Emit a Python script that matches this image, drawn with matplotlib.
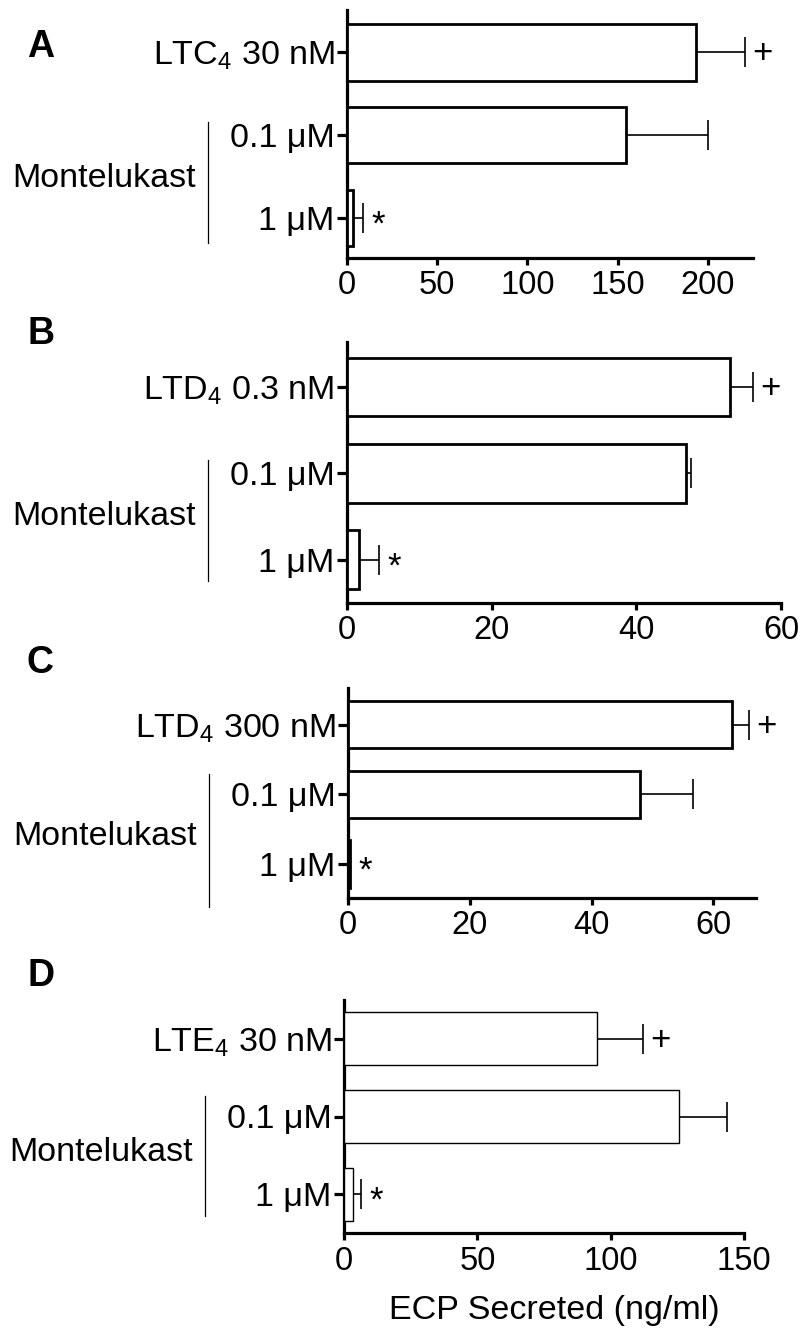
import numpy as np
import matplotlib.pyplot as plt
from matplotlib import transforms

plt.rcParams.update({'font.size': 24.5})
plt.rcParams['font.family'] = ['Liberation Sans', 'DejaVu Sans']
plt.rcParams['mathtext.fontset'] = 'custom'
plt.rcParams['mathtext.rm'] = 'Liberation Sans'

# ***** data (ECP secreted, ng/ml)
labels_A = ['LTC$\\mathregular{_4}$ 30 nM', '0.1 μM', '1 μM']
mean_A = [193.4, 154.8, 3.4]
err_A = [27.1, 45.2, 5.6]
marks_A = ['+', '', '*']

labels_B = ['LTD$\\mathregular{_4}$ 0.3 nM', '0.1 μM', '1 μM']
mean_B = [52.9, 46.8, 1.6]
err_B = [3.2, 0.7, 2.8]
marks_B = ['+', '', '*']

labels_C = ['LTD$\\mathregular{_4}$ 300 nM', '0.1 μM', '1 μM']
mean_C = [63.1, 47.9, 0.3]
err_C = [2.7, 8.7, 0.0]
marks_C = ['+', '', '*']

labels_D = ['LTE$\\mathregular{_4}$ 30 nM', '0.1 μM', '1 μM']
mean_D = [94.7, 125.6, 3.3]
err_D = [17.3, 18.2, 3.2]
marks_D = ['+', '', '*']

xticks_A = [0, 50, 100, 150, 200]
xticks_B = [0, 20, 40, 60]
xticks_C = [0, 20, 40, 60]
xticks_D = [0, 50, 100, 150]

W, H = 802, 1332
fig = plt.figure(figsize=(W/100, H/100), dpi=100)

# panel layout in pixels: left, top, right, bottom, xmax, ylim, bracket span, bar edge lw, letter y
panels = [
    ('A', labels_A, mean_A, err_A, marks_A, xticks_A, (347, 10, 753, 258), 225, (2.48, -0.51), (0.84, 2.30), 2.0, 47),
    ('B', labels_B, mean_B, err_B, marks_B, xticks_B, (347, 342, 781, 603), 60, (2.50, -0.52), (0.84, 2.25), 2.0, 334),
    ('C', labels_C, mean_C, err_C, marks_C, xticks_C, (348, 688, 756, 898), 67, (2.49, -0.53), (0.70, 2.62), 2.0, 663),
    ('D', labels_D, mean_D, err_D, marks_D, xticks_D, (344, 1000, 744, 1233), 150, (2.50, -0.50), (0.74, 2.28), 1.0, 976),
]

for letter, labels, mean, err, marks, xt, box, xmax, ylim, span, elw, ly in panels:
    l, t, r, b = box
    ax = fig.add_axes([l/W, 1 - b/H, (r - l)/W, (b - t)/H])
    y = np.arange(len(labels))
    mean = np.array(mean)
    err = np.array(err)

    ax.barh(y, mean, height=0.68, color='white', edgecolor='black', linewidth=elw, zorder=3)
    ok = err > 0
    ax.errorbar(mean[ok], y[ok], xerr=[np.zeros(ok.sum()), err[ok]], fmt='none',
                ecolor='black', elinewidth=1.2, capsize=11, capthick=1.2, zorder=2)
    for i, m in enumerate(marks):
        if m == '+':
            ax.annotate(m, xy=(mean[i] + err[i], y[i]), xytext=(13, -1), textcoords='offset points',
                        ha='center', va='center', fontsize=25)
        elif m == '*':
            ax.annotate(m, xy=(mean[i] + err[i], y[i]), xytext=(11, -5), textcoords='offset points',
                        ha='center', va='center', fontsize=25)

    ax.set_xlim(0, xmax)
    ax.set_ylim(*ylim)
    ax.set_xticks(xt)
    ax.set_yticks(y)
    ax.set_yticklabels(labels)
    for s in ['top', 'right']:
        ax.spines[s].set_visible(False)
    for s in ['left', 'bottom']:
        ax.spines[s].set_linewidth(2.3)
    ax.tick_params(axis='y', length=7, width=2.3, pad=2)
    ax.tick_params(axis='x', length=5, width=2.3, pad=4, labelsize=23.5)
    ax.patch.set_alpha(0)

    # Montelukast bracket
    tr = transforms.offset_copy(transforms.blended_transform_factory(ax.transAxes, ax.transData),
                                fig=fig, x=-139, y=0, units='dots')
    ax.plot([0, 0], list(span), color='black', lw=0.9, transform=tr, clip_on=False)
    tr2 = transforms.offset_copy(transforms.blended_transform_factory(ax.transAxes, ax.transData),
                                 fig=fig, x=-151, y=4, units='dots')
    ax.text(0, np.mean(span), 'Montelukast', transform=tr2, ha='right', va='center', fontsize=24.5)

    fig.text(27/W, 1 - ly/H, letter, fontsize=27, fontweight='bold', ha='left', va='center')

ax.set_xlabel('ECP Secreted (ng/ml)', fontsize=24.5)
ax.xaxis.set_label_coords(0.525, -0.265)

plt.savefig('out.png', dpi=100)
